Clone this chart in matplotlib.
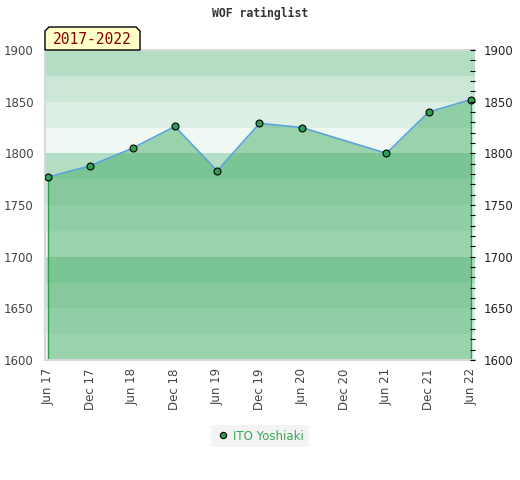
import numpy as np
import matplotlib.pyplot as plt
from matplotlib.patches import Polygon

months = ['Jun 17', 'Dec 17', 'Jun 18', 'Dec 18', 'Jun 19', 'Dec 19',
          'Jun 20', 'Dec 20', 'Jun 21', 'Dec 21', 'Jun 22']
ratings = [1777, 1788, 1805, 1826, 1783, 1829, 1825, np.nan, 1800, 1840, 1852]
player = 'ITO Yoshiaki'
period = '2017-2022'
title = 'WOF ratinglist'

# background band colours, lightest (x00-x25) to darkest (x75-x100)
band_cols = ['#eff8f2', '#ddefe4', '#cce7d6', '#b3dec3']

fig = plt.figure(figsize=(5.2, 4.8), dpi=100)
ax = fig.add_axes([45 / 520, 1 - 360 / 480, 430 / 520, 310 / 480])

ymin, ymax = 1600, 1900
for lo in range(ymin, ymax, 25):
    ax.axhspan(lo, lo + 25, color=band_cols[(lo % 100) // 25], lw=0, zorder=0)

x = np.arange(len(months))
y = np.array(ratings, dtype=float)
ok = ~np.isnan(y)
ax.fill_between(x[ok], ymin, y[ok], color='#3ba95e', alpha=0.47, lw=0, zorder=1)
ax.vlines([x[ok][0], x[ok][-1]], ymin, [y[ok][0], y[ok][-1]], color='#2e9e50', lw=1, zorder=2)
ax.plot(x[ok], y[ok], color='#5ba3dc', lw=1.2, zorder=3)
ax.plot(x[ok], y[ok], 'o', ms=5, mfc='#2e9e55', mec='black', mew=0.8, zorder=4,
        label=player)

ax.set_xlim(-0.07, 10.095)
ax.set_ylim(ymin, ymax)
ax.set_xticks(x)
ax.set_xticklabels(months, rotation=90, fontsize=8, color='#333333')
ax.set_yticks(range(ymin, ymax + 1, 50))
ax.tick_params(axis='both', length=0, labelsize=8.5, labelcolor='#444444')
ax.tick_params(axis='x', pad=6)
ax.tick_params(axis='y', pad=8)
for s in ['left', 'bottom', 'top']:
    ax.spines[s].set_color('#d8d8d8')
    ax.spines[s].set_linewidth(1.5)
ax.spines['right'].set_visible(False)

ax2 = ax.twinx()
ax2.set_ylim(ymin, ymax)
ax2.set_yticks(range(ymin, ymax + 1, 50))
ax2.set_yticks(range(ymin, ymax + 1, 10), minor=True)
ax2.tick_params(axis='y', which='both', direction='in', length=3.5, width=0.8,
                pad=6, labelsize=8.5, labelcolor='#222222')
for s in ax2.spines.values():
    s.set_visible(False)

fig.text(0.5, 1 - 13 / 480, title, ha='center', va='center',
         family='DejaVu Sans Mono', weight='bold', fontsize=8.3, color='#333333')

# period tag with bevelled top corners
x0, x1, y0, y1, b = 45, 140, 480 - 50, 480 - 27, 4
pts = [(x0, y0), (x0, y1 - b), (x0 + b, y1), (x1 - b, y1), (x1, y1 - b), (x1, y0)]
fig.patches.append(Polygon([(px / 520, py / 480) for px, py in pts], closed=True,
                           transform=fig.transFigure, facecolor='#ffffc8',
                           edgecolor='black', lw=1, zorder=5))
fig.text((x0 + x1) / 2 / 520, 1 - 40 / 480, period, ha='center', va='center',
         family='DejaVu Sans Mono', fontsize=10.5, color='#8b0000', zorder=6)

h, l = ax.get_legend_handles_labels()
leg = fig.legend(h, l, loc='center', bbox_to_anchor=(0.5, 1 - 436 / 480), fontsize=8.5,
                 frameon=True, fancybox=False, handletextpad=0.3, borderpad=0.4,
                 handlelength=1.2, markerscale=0.9)
leg.get_frame().set_facecolor('#f0f0f0')
leg.get_frame().set_edgecolor('none')
for t in leg.get_texts():
    t.set_color('#3aa655')

fig.savefig('out.png', dpi=100)
